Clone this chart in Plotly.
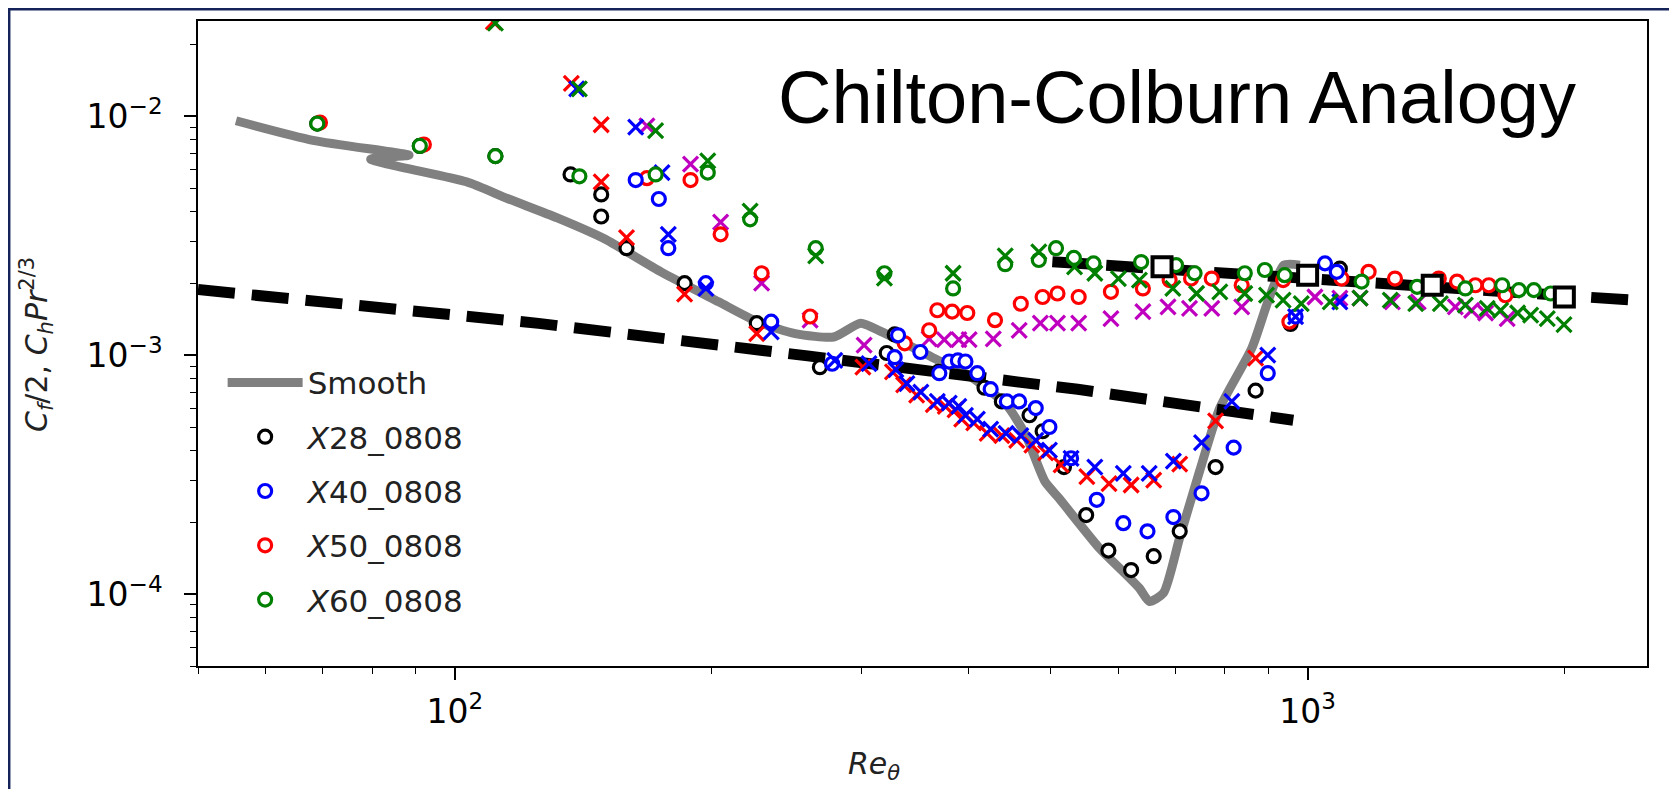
import plotly.graph_objects as go
import math

# ---------------- data ----------------
smooth_re = [55.4, 68.2, 83.9, 88.4, 79.7, 103.2, 115.3, 131.9, 149.4, 174.5, 203.9, 226.2, 250.8, 278.2,
             299.2, 316.8, 362.7, 399.8, 443.6, 467.1, 492, 511, 569.7, 608, 634.8, 652.3, 677.6, 707.6,
             746.9, 788.6, 860.3, 898.1, 937.8, 979.4]
smooth_c = [0.00956, 0.00792, 0.00709, 0.00686, 0.0066, 0.00531, 0.00452, 0.00375, 0.00308, 0.00223, 0.00167,
            0.00138, 0.00123, 0.00119, 0.00136, 0.00125, 0.00098, 0.000825, 0.000618, 0.000463, 0.000296,
            0.000252, 0.000156, 0.000124, 0.000106, 0.0000931, 0.000101, 0.000171, 0.000326, 0.000599,
            0.00107, 0.00167, 0.00238, 0.00238]

lam_re = [50, 125.4, 259.3, 537.5, 962]
lam_c = [0.00188, 0.001357, 0.000992, 0.000719, 0.000534]

turb_re = [502, 2394]
turb_c = [0.00246, 0.0017]

ref_re = [675, 1000, 1400, 2000]
ref_c = [0.00234, 0.00216, 0.00196, 0.00175]

x28_o_re = [69, 91, 111.6, 136.7, 148.5, 148.5, 159, 186, 226, 268, 321, 328, 369, 418, 438, 472, 489, 518,
            550, 584, 621, 660, 708, 780, 869, 955, 1091]
x28_o_c = [0.0093, 0.0075, 0.0068, 0.0057, 0.0047, 0.0038, 0.0028, 0.0020, 0.00136, 0.00089, 0.00102,
           0.00122, 0.00085, 0.00073, 0.00064, 0.00056, 0.00048, 0.00034, 0.000214, 0.000152, 0.000126,
           0.000144, 0.000183, 0.00034, 0.00071, 0.00135, 0.0023]

x28_x_re = [168, 189, 205, 229, 261, 302, 360, 375, 390, 401, 428, 459, 486, 509, 539, 588, 641, 686, 727,
            772, 837, 1020, 1091, 1152, 1257, 1348, 1490, 1557, 1617, 1714]
x28_x_c = [0.0091, 0.0063, 0.0036, 0.0020, 0.0014, 0.0011, 0.00117, 0.00116, 0.00116, 0.00116, 0.00117,
           0.00127, 0.00136, 0.00136, 0.00136, 0.00142, 0.00152, 0.00159, 0.00157, 0.00157, 0.00159,
           0.00175, 0.00173, 0.00173, 0.00167, 0.00167, 0.00159, 0.00154, 0.0015, 0.00142]

x40_o_re = [163, 173.5, 178, 197, 235, 277, 328, 331, 351.5, 370, 380, 389, 397, 410, 425, 444, 459, 480,
            498, 528, 566, 608, 649, 696, 751, 819, 898, 968, 1048, 1082]
x40_o_c = [0.0054, 0.0045, 0.0028, 0.0020, 0.00138, 0.00092, 0.00098, 0.00121, 0.00103, 0.00084, 0.00094,
           0.00095, 0.00094, 0.00084, 0.00072, 0.00064, 0.00064, 0.0006, 0.0005, 0.00037, 0.000248,
           0.000198, 0.000183, 0.00021, 0.000264, 0.00041, 0.00084, 0.00145, 0.00242, 0.00223]

x40_x_re = [139, 163, 175, 178, 197, 235, 279, 306, 329, 339, 352, 368, 380, 390, 397, 410, 425, 443, 461,
            480, 498, 528, 563, 608, 652, 696, 751, 815, 898, 968, 1091]
x40_x_c = [0.0130, 0.0090, 0.0058, 0.0032, 0.0019, 0.00125, 0.00095, 0.00092, 0.00087, 0.00076, 0.0007,
           0.00064, 0.00063, 0.00061, 0.00056, 0.00054, 0.00049, 0.00047, 0.00046, 0.00044, 0.0004,
           0.00037, 0.00034, 0.00032, 0.00032, 0.00036, 0.00043, 0.00064, 0.001, 0.00145, 0.00167]

x50_o_re = [69.5, 92, 168, 189, 205, 229, 261, 337, 360, 368, 383, 399, 430, 461, 489, 509, 539, 588, 641,
            689, 730, 772, 837, 936, 952, 1096, 1179, 1266, 1425, 1497, 1573, 1631, 1706]
x50_o_c = [0.0094, 0.0076, 0.0055, 0.0054, 0.0032, 0.0022, 0.00145, 0.00112, 0.00127, 0.00154, 0.00152,
           0.0015, 0.0014, 0.00164, 0.00175, 0.00181, 0.00175, 0.00184, 0.0019, 0.00206, 0.00209, 0.00209,
           0.00196, 0.00206, 0.00138, 0.00209, 0.00223, 0.00209, 0.00209, 0.00203, 0.00196, 0.00196,
           0.00178]

x50_x_re = [111, 137, 148.5, 148.5, 159, 186, 226, 301, 326, 336, 348, 364, 376, 386, 393, 406, 421, 438,
            456, 475, 493, 514, 551, 585, 621, 660, 708, 780, 869]
x50_x_c = [0.0248, 0.0137, 0.0092, 0.0053, 0.0031, 0.0018, 0.00123, 0.00089, 0.00085, 0.00075, 0.00068,
           0.00062, 0.00061, 0.00059, 0.00054, 0.00052, 0.00047, 0.00046, 0.00044, 0.00042, 0.00039,
           0.000347, 0.00031, 0.00029, 0.000286, 0.0003, 0.00035, 0.00053, 0.00097]

x60_o_re = [69, 91, 111.6, 140, 172, 198, 222, 265, 319, 384, 442, 484, 507, 532, 561, 638, 701, 737, 844,
            891, 940, 1157, 1344, 1531, 1691, 1769, 1842, 1928]
x60_o_c = [0.0093, 0.0075, 0.0068, 0.0056, 0.0057, 0.0058, 0.0037, 0.0028, 0.0022, 0.0019, 0.0024, 0.0025,
           0.0028, 0.00255, 0.00242, 0.00245, 0.00238, 0.0022, 0.0022, 0.00227, 0.00216, 0.00203, 0.00193,
           0.0019, 0.00196, 0.00187, 0.00187, 0.00181]

x60_x_re = [111.6, 140, 172, 198, 222, 265, 319, 384, 442, 484, 533, 563, 600, 635, 695, 741, 789, 844, 895,
            936, 983, 1063, 1152, 1250, 1339, 1431, 1531, 1624, 1684, 1763, 1826, 1910, 1998]
x60_x_c = [0.0245, 0.0130, 0.0087, 0.0065, 0.0040, 0.0026, 0.0021, 0.0022, 0.0026, 0.0027, 0.00234, 0.0022,
           0.00209, 0.00206, 0.0019, 0.00181, 0.00184, 0.00181, 0.00178, 0.0017, 0.00164, 0.00167,
           0.00173, 0.0017, 0.00164, 0.00164, 0.00162, 0.00157, 0.00154, 0.0015, 0.00147, 0.00142, 0.00134]

legend_names = ["Smooth", "<i>X</i>28_0808", "<i>X</i>40_0808", "<i>X</i>50_0808", "<i>X</i>60_0808"]

x_major = [100, 1000]
x_major_text = ["10<sup>2</sup>", "10<sup>3</sup>"]
y_major = [1e-4, 1e-3, 1e-2]
y_major_text = ["10<sup>\u22124</sup>", "10<sup>\u22123</sup>", "10<sup>\u22122</sup>"]
x_minor = [50, 60, 70, 80, 90, 200, 300, 400, 500, 600, 700, 800, 900, 2000]
y_minor = [5e-5, 6e-5, 7e-5, 8e-5, 9e-5, 2e-4, 3e-4, 4e-4, 5e-4, 6e-4, 7e-4, 8e-4, 9e-4,
           2e-3, 3e-3, 4e-3, 5e-3, 6e-3, 7e-3, 8e-3, 9e-3, 2e-2]

# ---------------- styling ----------------
W, H = 1677, 789
ML, MR, MT, MB = 190, 38, 13, 131
PW, PH = W - ML - MR, H - MT - MB

BLACK, BLUE, RED, GREEN, MAGENTA = "#000000", "#0000FF", "#FF0000", "#008000", "#BF00BF"
FONT = "DejaVu Sans"
CIRC = dict(symbol="circle", size=13, color="white")
CROSS = dict(symbol="x-thin-open", size=15)

fig = go.Figure()

fig.add_trace(go.Scatter(x=smooth_re, y=smooth_c, mode="lines", name=legend_names[0], legendgroup="g0",
                         legendrank=1,
                         line=dict(color="#808080", width=9, shape="spline", smoothing=0.6)))
for re_, c_ in ((lam_re, lam_c), (turb_re, turb_c)):
    fig.add_trace(go.Scatter(x=re_, y=c_, mode="lines", showlegend=False, hoverinfo="skip",
                             line=dict(color="black", width=11, dash="37px,17px")))


def circles(re_, c_, color, name, grp, rank):
    fig.add_trace(go.Scatter(x=re_, y=c_, mode="markers", name=name, legendgroup=grp, legendrank=rank,
                             marker=dict(**CIRC, line=dict(color=color, width=3.2))))


def crosses(re_, c_, color):
    fig.add_trace(go.Scatter(x=re_, y=c_, mode="markers", showlegend=False,
                             marker=dict(**CROSS, color=color, line=dict(color=color, width=3.2))))


circles(x28_o_re, x28_o_c, BLACK, legend_names[1], "g1", 2)
crosses(x28_x_re, x28_x_c, MAGENTA)
circles(x50_o_re, x50_o_c, RED, legend_names[3], "g3", 4)
crosses(x50_x_re, x50_x_c, RED)
circles(x40_o_re, x40_o_c, BLUE, legend_names[2], "g2", 3)
crosses(x40_x_re, x40_x_c, BLUE)
circles(x60_o_re, x60_o_c, GREEN, legend_names[4], "g4", 5)
crosses(x60_x_re, x60_x_c, GREEN)

fig.add_trace(go.Scatter(x=ref_re, y=ref_c, mode="markers", showlegend=False,
                         marker=dict(symbol="square", size=19, color="white",
                                     line=dict(color="black", width=4))))

axis_common = dict(type="log", showline=True, linecolor="black", linewidth=1.5, mirror=True,
                   ticks="outside", ticklen=12, tickwidth=1.5, tickcolor="black",
                   showgrid=False, zeroline=False, tickmode="array",
                   tickfont=dict(family=FONT, size=33, color="black"))

fig.update_layout(
    width=W, height=H,
    margin=dict(l=ML, r=MR, t=MT, b=MB),
    paper_bgcolor="white", plot_bgcolor="white",
    xaxis=dict(**axis_common, range=[math.log10(50), math.log10(2500)],
               tickvals=x_major, ticktext=x_major_text, ticklabelstandoff=4,
               minor=dict(tickmode="array", tickvals=x_minor, ticks="outside", ticklen=6,
                          tickwidth=1.2, tickcolor="black", showgrid=False)),
    yaxis=dict(**axis_common, range=[math.log10(5e-5), math.log10(0.025)],
               tickvals=y_major, ticktext=y_major_text, ticklabelstandoff=15,
               minor=dict(tickmode="array", tickvals=y_minor, ticks="outside", ticklen=6,
                          tickwidth=1.2, tickcolor="black", showgrid=False)),
    legend=dict(x=0.017, y=0.481, xanchor="left", yanchor="top",
                font=dict(family=FONT, size=31, color="#222222"),
                bgcolor="rgba(255,255,255,0)", itemwidth=75, tracegroupgap=11,
                traceorder="grouped"),
    showlegend=True,
)

fig.add_annotation(text="Chilton-Colburn Analogy", xref="paper", yref="paper",
                   x=(768 - ML) / PW, y=(H - MB - 89) / PH, xanchor="left", yanchor="middle",
                   showarrow=False, font=dict(family="Liberation Sans", size=74, color="black"))
fig.add_annotation(text="<i>Re</i><sub><i>\u03b8</i></sub>", xref="paper", yref="paper",
                   x=(866 - ML) / PW, y=(H - MB - 757) / PH, xanchor="center", yanchor="middle",
                   showarrow=False, font=dict(family=FONT, size=30, color="#222222"))
fig.add_annotation(text="<i>C</i><sub><i>f</i></sub>/2, <i>C</i><sub><i>h</i></sub><i>Pr</i><sup>2/3</sup>",
                   xref="paper", yref="paper", textangle=-90,
                   x=(28 - ML) / PW, y=(H - MB - 337) / PH, xanchor="center", yanchor="middle",
                   showarrow=False, font=dict(family=FONT, size=30, color="#222222"))

# slide frame around the picture
fig.add_shape(type="rect", xref="paper", yref="paper", layer="above",
              x0=(1.2 - ML) / PW, x1=(W - 1.2 - ML) / PW,
              y0=(H - MB - (H - 1.2)) / PH, y1=(H - MB - 1.2) / PH,
              line=dict(color="#14245a", width=2.5))

fig.write_html("out.html")
